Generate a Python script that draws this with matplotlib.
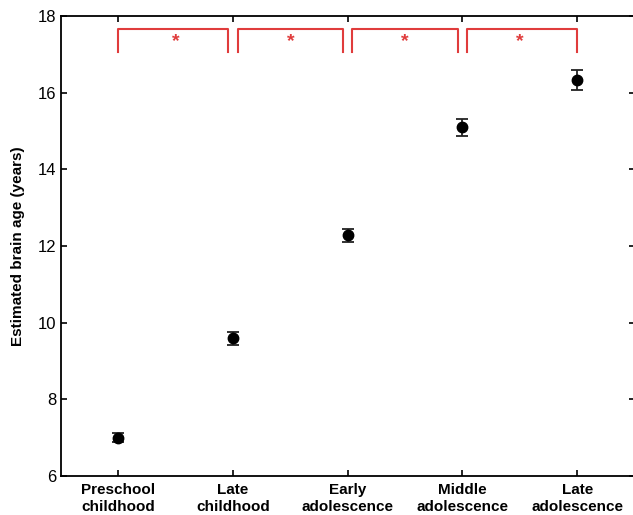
import numpy as np
import matplotlib.pyplot as plt

plt.rcParams['font.family'] = ['Liberation Sans', 'DejaVu Sans']

# Data
groups = ['Preschool\nchildhood', 'Late\nchildhood', 'Early\nadolescence',
          'Middle\nadolescence', 'Late\nadolescence']
brain_age = [7.0, 9.6, 12.28, 15.1, 16.33]
brain_err = [0.12, 0.17, 0.17, 0.22, 0.26]
sig_pairs = [(1, 2), (2, 3), (3, 4), (4, 5)]
sig_labels = ['*', '*', '*', '*']

x = np.arange(1, len(groups) + 1)

fig = plt.figure(figsize=(6.33, 5.15), dpi=100)
ax = fig.add_axes([0.0964, 0.0757, 0.906, 0.893])

ax.errorbar(x, brain_age, yerr=brain_err, fmt='o', color='black', ecolor='#222222',
            markersize=7.5, capsize=4.5, elinewidth=1.3, capthick=1.3)

# significance brackets
red = '#e03c3c'
y_top, y_leg = 17.66, 17.06
gap = 0.04
for (a, b), lab in zip(sig_pairs, sig_labels):
    xa = a + (gap if a > 1 else 0)
    xb = b - (gap if b < len(groups) else 0)
    ax.plot([xa, xa, xb, xb], [y_leg, y_top, y_top, y_leg], color=red, lw=1.5)
    ax.text((a + b) / 2, 17.33, lab, color=red, ha='center', va='center',
            fontsize=14, fontweight='bold')

ax.set_xlim(0.5, 5.5)
ax.set_ylim(6, 18)
ax.set_xticks(x)
ax.set_xticklabels(groups, fontsize=11, fontweight='bold', linespacing=1.25)
ax.set_yticks([6, 8, 10, 12, 14, 16, 18])
ax.tick_params(axis='y', labelsize=12)
ax.tick_params(direction='in', top=True, right=True, length=4, width=1.2)
ax.tick_params(axis='x', pad=5)
ax.set_ylabel('Estimated brain age (years)', fontsize=11, fontweight='bold', labelpad=9)
for s in ax.spines.values():
    s.set_linewidth(1.3)

fig.savefig('out.png', dpi=100)
